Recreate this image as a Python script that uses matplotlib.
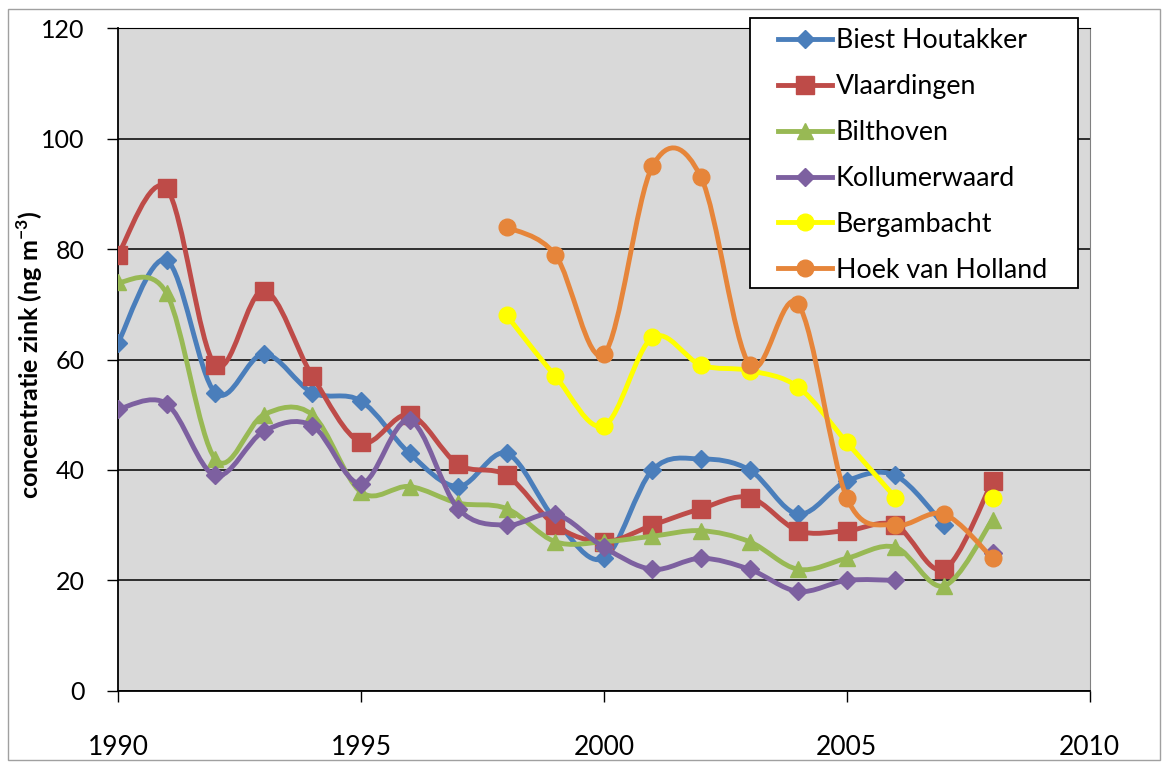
import numpy as np
import matplotlib.pyplot as plt
from matplotlib.path import Path
from matplotlib.patches import PathPatch, Rectangle
from matplotlib.lines import Line2D

plt.rcParams['font.family'] = ['Lato', 'DejaVu Sans']

years = list(range(1990, 2009))
nan = np.nan

# values (ng/m3)
biest = [63, 78, 54, 61, 54, 52.5, 43, 37, 43, 31, 24, 40, 42, 40, 32, 38, 39, 30, nan]
vlaardingen = [79, 91, 59, 72.5, 57, 45, 50, 41, 39, 30, 27, 30, 33, 35, 29, 29, 30, 22, 38]
bilthoven = [74, 72, 42, 50, 50, 36, 37, 34, 33, 27, 27, 28, 29, 27, 22, 24, 26, 19, 31]
kollumerwaard = [51, 52, 39, 47, 48, 37.5, 49, 33, 30, 32, 26, 22, 24, 22, 18, 20, 20, nan, 25]
bergambacht = [nan] * 8 + [68, 57, 48, 64, 59, 58, 55, 45, 35, nan, 35]
hoek = [nan] * 8 + [84, 79, 61, 95, 93, 59, 70, 35, 30, 32, 24]

names = ['Biest Houtakker', 'Vlaardingen', 'Bilthoven', 'Kollumerwaard',
         'Bergambacht', 'Hoek van Holland']
series = [biest, vlaardingen, bilthoven, kollumerwaard, bergambacht, hoek]
colors = ['#4a7ebb', '#be4b48', '#98b954', '#7d60a0', '#ffff00', '#e6853a']
markers = ['D', 's', '^', 'D', 'o', 'o']
msizes = [9, 13, 12, 9, 12, 12]


def smooth_path(x, y):
    # Excel-style smoothed line: cubic bezier through points, split at gaps
    verts, codes = [], []
    x = np.asarray(x, float)
    y = np.asarray(y, float)
    ok = ~np.isnan(y)
    runs, cur = [], []
    for i in range(len(x)):
        if ok[i]:
            cur.append(i)
        elif cur:
            runs.append(cur)
            cur = []
    if cur:
        runs.append(cur)
    for run in runs:
        px, py = x[run], y[run]
        n = len(px)
        verts.append((px[0], py[0]))
        codes.append(Path.MOVETO)
        for k in range(n - 1):
            k0 = max(k - 1, 0)
            k3 = min(k + 2, n - 1)
            c1 = (px[k] + (px[k + 1] - px[k0]) / 6, py[k] + (py[k + 1] - py[k0]) / 6)
            c2 = (px[k + 1] - (px[k3] - px[k]) / 6, py[k + 1] - (py[k3] - py[k]) / 6)
            verts += [c1, c2, (px[k + 1], py[k + 1])]
            codes += [Path.CURVE4] * 3
    return Path(verts, codes)


fig = plt.figure(figsize=(11.68, 7.65), dpi=100)
ax = fig.add_axes([0.101, 0.097, 0.832, 0.866])
ax.set_facecolor('#d9d9d9')

fig.patches.append(Rectangle((0.007, 0.006), 0.986, 0.982, transform=fig.transFigure,
                             fill=False, edgecolor='#a0a0a0', linewidth=1))

handles = []
for i, (vals, name, c, m, ms) in enumerate(zip(series, names, colors, markers, msizes)):
    z = 3 + i
    ax.add_patch(PathPatch(smooth_path(years, vals), facecolor='none', edgecolor=c,
                           linewidth=3.5, zorder=z, capstyle='round', joinstyle='round'))
    ax.plot(years, vals, linestyle='none', marker=m, markersize=ms, color=c,
            markeredgecolor=c, zorder=z)
    handles.append(Line2D([], [], color=c, linewidth=3.5, marker=m, markersize=ms,
                          markeredgecolor=c, label=name))

ax.set_xlim(1990, 2010)
ax.set_ylim(0, 120)
ax.set_xticks(range(1990, 2011, 5))
ax.set_yticks(range(0, 121, 20))
ax.yaxis.grid(True, color='black', linewidth=1.1)
ax.set_axisbelow(True)
ax.tick_params(axis='both', direction='out', length=8, width=1, colors='black')
ax.tick_params(axis='x', pad=24, labelsize=19)
ax.tick_params(axis='y', pad=16, labelsize=18)
for s in ['left', 'bottom']:
    ax.spines[s].set_color('black')
    ax.spines[s].set_linewidth(1.3)
ax.spines['top'].set_color('black')
ax.spines['right'].set_color('#808080')

ax.set_ylabel('concentratie zink (ng m$^{\\mathregular{-3}}$)', fontsize=18,
              fontweight='bold')
ax.yaxis.set_label_coords(-0.075, 0.507)

# legend box drawn separately: wide side margins, tight top/bottom
ax.add_patch(Rectangle((0.650, 0.608), 0.3377, 0.407, transform=ax.transAxes,
                       facecolor='white', edgecolor='black', linewidth=1.3,
                       zorder=19, clip_on=False))
leg = ax.legend(handles=handles, loc='center', bbox_to_anchor=(0.8175, 0.808),
                fontsize=19.3, frameon=False, handlelength=2.0, handletextpad=0.15,
                labelspacing=0.78, borderpad=0.1, borderaxespad=0)
leg.set_zorder(20)

plt.savefig('out.png', dpi=100)
